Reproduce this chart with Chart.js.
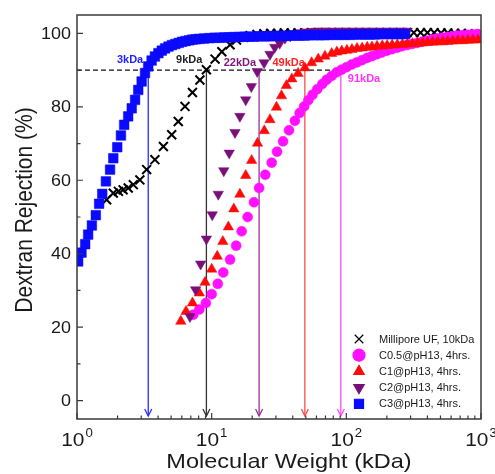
<!DOCTYPE html>
<html>
<head>
<meta charset="utf-8">
<script src="https://cdn.jsdelivr.net/npm/chart.js@4.4.1/dist/chart.umd.min.js"></script>
<style>
  html, body { margin: 0; padding: 0; background: #fff; }
  canvas { display: block; }
</style>
</head>
<body>
<canvas id="chart" width="495" height="474"></canvas>
<script>
/* dextran rejection vs molecular weight, log x axis */

// Millipore UF, 10kDa
const ufMw = [1.66, 1.86, 2.03, 2.2, 2.4, 2.62, 2.93, 3.29, 3.79, 4.38, 5.05, 5.65, 6.34, 7.2, 8.18, 9.14, 10.6, 11.9, 13.7, 15.3,
  17.2, 19.3, 21.7, 24.4, 27.4, 30.8, 34.6, 38.9, 43.7, 49, 55, 62, 70, 78, 88, 99, 111, 125, 140, 157, 177, 199, 223,
  251, 282, 317, 356, 400, 449, 505, 567, 637, 716, 804, 903];
const ufRej = [54.7, 56.5, 57.0, 57.4, 57.9, 58.8, 60.1, 62.9, 65.6, 69.2, 72.4, 76.0, 80.1, 83.9, 87.3, 90.1, 93.0, 95.0, 96.9, 98.2,
  98.9, 99.4, 99.7, 99.9, 100.0, 100.0, 100.1, 100.1, 100.1, 100.1, 100.2, 100.2, 100.2, 100.2, 100.2, 100.2, 100.2, 100.2, 100.2, 100.2, 100.2, 100.2, 100.2,
  100.2, 100.2, 100.2, 100.2, 100.2, 100.2, 100.1, 100.1, 100.0, 100.0, 99.9, 99.8];

// C0.5@pH13, 4hrs.
const c05Mw = [7.3, 8.1, 9.06, 10.0, 11.1, 12.2, 13.7, 15.2, 16.7, 18.5, 20.6, 22.5, 25.0, 27.9, 30.6, 33.9,
  37.5, 41.5, 45, 48.6, 52.2, 56.1, 60.8, 66.3, 71.5, 77.8, 84.8, 92.1, 100.5, 109.6, 119.6, 130.5, 142.3, 155, 169, 184,
  200, 218, 238, 259, 282, 308, 335, 365, 398, 434, 473, 515, 561, 612, 667, 727, 792, 863, 941];
const c05Rej = [23.4, 24.8, 26.6, 29.0, 31.8, 34.9, 38.4, 42.2, 46.1, 50.0, 54.0, 57.9, 61.5, 64.8, 67.8, 70.6,
  73.6, 76.2, 78.3, 80.1, 81.8, 83.3, 84.8, 86.2, 87.4, 88.4, 89.4, 90.1, 90.8, 91.5, 92.1, 92.7, 93.3, 93.8, 94.3, 94.8,
  95.3, 95.7, 96.1, 96.5, 96.8, 97.1, 97.4, 97.7, 98.0, 98.3, 98.6, 98.8, 99.0, 99.2, 99.4, 99.5, 99.6, 99.7, 99.8];

// C1@pH13, 4hrs.
const c1Mw = [5.9, 6.45, 7.2, 8.1, 8.93, 10.0, 11.0, 12.1, 13.3, 14.6, 16.2, 17.9, 19.8, 21.9, 24.6, 27.1, 30.3, 33.0,
  35.9, 39.4, 43.8, 49.2, 55.2, 61.9, 69.4, 77.8, 85, 92.5, 101, 110, 120, 131, 143, 155, 169, 185, 201, 219, 239, 261, 284,
  310, 338, 368, 401, 437, 477, 520, 566, 617, 673, 733, 799, 871, 950];
const c1Rej = [21.6, 24.3, 26.6, 29.3, 32.2, 35.8, 39.3, 43.3, 47.3, 52.2, 56.2, 61.3, 65.4, 70.1, 73.5, 76.5, 79.9, 83.0,
  85.8, 87.6, 89.1, 90.6, 92.0, 93.0, 93.8, 94.5, 94.9, 95.2, 95.4, 95.6, 95.9, 96.0, 96.2, 96.3, 96.5, 96.6, 96.7, 96.8, 96.9, 97.0, 97.1,
  97.2, 97.3, 97.4, 97.5, 97.6, 97.7, 97.7, 97.8, 97.9, 98.0, 98.0, 98.1, 98.2, 98.2];

// C2@pH13, 4hrs.
const c2Mw = [6.9, 7.6, 8.28, 9.14, 10.1, 11.2, 12.3, 13.5, 14.9, 16.2, 17.9, 19.7, 21.8, 24.5, 27.1, 29.4, 32, 35,
  38.3, 42, 46, 50, 55, 60, 66, 72, 79, 87, 95, 104, 114, 125, 137, 150, 164, 180, 197, 216, 236, 259, 283];
const c2Rej = [22.9, 30.2, 37.2, 44.0, 50.6, 56.2, 62.6, 67.4, 73.0, 77.4, 81.9, 85.5, 89.6, 92.0, 94.3, 96.2, 97.3, 98.7,
  99.3, 99.8, 100.2, 100.4, 100.5, 100.6, 100.6, 100.6, 100.6, 100.6, 100.6, 100.6, 100.6, 100.6, 100.6, 100.6, 100.6, 100.6,
  100.6, 100.6, 100.6, 100.6, 100.6];

// C3@pH13, 4hrs.
const c3Mw = [1.02, 1.08, 1.15, 1.21, 1.29, 1.38, 1.46, 1.54, 1.64, 1.76, 1.86, 1.99, 2.12, 2.24, 2.40, 2.55, 2.70, 2.85,
  3.02, 3.20, 3.38, 3.58, 3.79, 4.02, 4.26, 4.51, 4.78, 5.07, 5.37, 5.69, 6.03, 6.4, 6.8, 7.2, 7.6,
  8.1, 8.8, 9.6, 10.5, 11.4, 12.4, 13.5, 14.7, 16.0, 17.5, 19.0, 20.7, 22.6, 24.6, 26.8, 29.2, 31.8, 34.7, 37.8, 41.2,
  44.9, 49, 53, 58, 63, 69, 75, 82, 89, 97, 106, 115, 126, 137, 149, 163, 177, 193, 211, 230, 250, 273];
const c3Rej = [37.9, 40.3, 42.6, 45.2, 47.7, 50.5, 53.6, 56.3, 59.7, 62.9, 66.0, 69.0, 72.2, 75.1, 77.4, 79.6, 81.9, 84.6,
  86.9, 89.2, 91.0, 92.6, 93.7, 94.6, 95.3, 95.9, 96.4, 96.8, 97.1, 97.4, 97.7, 97.9, 98.1, 98.3, 98.4,
  98.5, 98.6, 98.7, 98.8, 98.8, 98.9, 98.9, 99.0, 99.0, 99.1, 99.1, 99.1, 99.2, 99.2, 99.2, 99.3, 99.3, 99.3, 99.4, 99.4,
  99.4, 99.4, 99.5, 99.5, 99.5, 99.5, 99.6, 99.6, 99.6, 99.6, 99.6, 99.7, 99.7, 99.7, 99.7, 99.7, 99.8, 99.8, 99.8, 99.8, 99.8, 99.8];

// 90% cut-off markers
const cutoffLevel = 90;
const cutoffMw = [3.38, 9.14, 22.5, 49.2, 91];
const cutoffLabels = ['3kDa', '9kDa', '22kDa', '49kDa', '91kDa'];

// axis ticks
const yTicks = [0, 20, 40, 60, 80, 100];
const yMinorTicks = [10, 30, 50, 70, 90];
const xDecades = [1, 10, 100, 1000];
const xExponents = ['0', '1', '2', '3'];

const FONT = '"Liberation Sans", Arial, Helvetica, sans-serif';
const STRETCH = 1.12;

const cutoffLineColors = ['#2a2aff', '#333333', '#992f99', '#ff4a4a', '#ff48ff'];
const cutoffTextColors = ['#1f1fff', '#222222', '#7a187a', '#ff2222', '#ff33ff'];
const cutoffTextDx = [-5, -4, -3, 0, 7];
const cutoffTextDy = [-7, -7, -4, -4, 12];

function toPoints(xs, ys) {
  return xs.map((v, i) => ({ x: v, y: ys[i] }));
}

const datasets = [
  { label: 'Millipore UF, 10kDa', data: toPoints(ufMw, ufRej), pointStyle: 'crossRot', pointRadius: 6.3,
    borderColor: '#000000', backgroundColor: '#000000', pointBorderWidth: 2, order: 5 },
  { label: 'C0.5@pH13, 4hrs.', data: toPoints(c05Mw, c05Rej), pointStyle: 'circle', pointRadius: 5,
    borderColor: '#ff10ff', backgroundColor: '#ff10ff', pointBorderWidth: 0.5, order: 4 },
  { label: 'C1@pH13, 4hrs.', data: toPoints(c1Mw, c1Rej), pointStyle: 'triangle', pointRadius: 6,
    borderColor: '#ff0a0a', backgroundColor: '#ff0a0a', pointBorderWidth: 0.5, order: 3 },
  { label: 'C2@pH13, 4hrs.', data: toPoints(c2Mw, c2Rej), pointStyle: 'triangle', pointRotation: 180, pointRadius: 6,
    borderColor: '#7a0f7a', backgroundColor: '#7a0f7a', pointBorderWidth: 0.5, order: 2 },
  { label: 'C3@pH13, 4hrs.', data: toPoints(c3Mw, c3Rej), pointStyle: 'rect', pointRadius: 6.8,
    borderColor: '#0a0aff', backgroundColor: '#0a0aff', pointBorderWidth: 0.5, order: 1 },
];
datasets.forEach(d => { d.showLine = false; d.clip = 0; });

function stretchedText(ctx, text, x, y, align, baseline) {
  ctx.save();
  ctx.translate(x, y);
  ctx.scale(STRETCH, 1);
  ctx.textAlign = align;
  ctx.textBaseline = baseline;
  ctx.fillText(text, 0, 0);
  ctx.restore();
}

const decor = {
  id: 'decor',
  beforeDatasetsDraw(chart) {
    const { ctx, chartArea: a } = chart;
    const x = chart.scales.x, y = chart.scales.y;
    const y90 = y.getPixelForValue(cutoffLevel);
    ctx.save();
    // dashed 90% line
    ctx.strokeStyle = '#111';
    ctx.lineWidth = 1.3;
    ctx.setLineDash([5, 3]);
    ctx.beginPath();
    ctx.moveTo(a.left, y90);
    ctx.lineTo(x.getPixelForValue(cutoffMw[cutoffMw.length - 1]), y90);
    ctx.stroke();
    ctx.setLineDash([]);
    // arrows down to the axis
    cutoffMw.forEach((mw, i) => {
      const px = x.getPixelForValue(mw);
      ctx.strokeStyle = cutoffLineColors[i];
      ctx.lineWidth = 1.3;
      ctx.beginPath();
      ctx.moveTo(px, y90);
      ctx.lineTo(px, a.bottom - 3);
      ctx.stroke();
      ctx.beginPath();
      ctx.moveTo(px - 3.5, a.bottom - 10);
      ctx.lineTo(px, a.bottom - 3);
      ctx.lineTo(px + 3.5, a.bottom - 10);
      ctx.stroke();
      ctx.fillStyle = cutoffTextColors[i];
      ctx.font = 'bold 11px ' + FONT;
      ctx.textAlign = i === cutoffMw.length - 1 ? 'left' : 'right';
      ctx.textBaseline = 'alphabetic';
      ctx.fillText(cutoffLabels[i], px + cutoffTextDx[i], y90 + cutoffTextDy[i]);
    });
    ctx.restore();
  },
  afterDatasetsDraw(chart) {
    const { ctx, chartArea: a } = chart;
    const x = chart.scales.x, y = chart.scales.y;
    ctx.save();
    // frame
    ctx.strokeStyle = '#3a3a3a';
    ctx.lineWidth = 1.5;
    ctx.strokeRect(a.left, a.top, a.right - a.left, a.bottom - a.top);
    // inward ticks
    ctx.lineWidth = 1.2;
    ctx.beginPath();
    yTicks.forEach(v => { const p = y.getPixelForValue(v); ctx.moveTo(a.left, p); ctx.lineTo(a.left + 6, p); });
    yMinorTicks.forEach(v => { const p = y.getPixelForValue(v); ctx.moveTo(a.left, p); ctx.lineTo(a.left + 3.5, p); });
    xDecades.forEach((d, i) => {
      const p = x.getPixelForValue(d);
      ctx.moveTo(p, a.bottom); ctx.lineTo(p, a.bottom - 6);
      if (i < xDecades.length - 1) {
        for (let k = 2; k <= 9; k++) {
          const q = x.getPixelForValue(d * k);
          ctx.moveTo(q, a.bottom); ctx.lineTo(q, a.bottom - 3.5);
        }
      }
    });
    ctx.stroke();
    // y tick labels
    ctx.fillStyle = '#1a1a1a';
    ctx.font = '16px ' + FONT;
    yTicks.forEach(v => stretchedText(ctx, String(v), a.left - 6, y.getPixelForValue(v) + 1, 'right', 'middle'));
    // x tick labels with superscript exponent
    xDecades.forEach((d, i) => {
      const p = x.getPixelForValue(d);
      ctx.font = '19px ' + FONT;
      const wb = ctx.measureText('10').width * 1.1;
      ctx.font = '12px ' + FONT;
      const ws = ctx.measureText(xExponents[i]).width * 1.1;
      const start = p - (wb + ws + 1) / 2;
      ctx.save(); ctx.translate(start, 446); ctx.scale(1.1, 1);
      ctx.font = '19px ' + FONT; ctx.textAlign = 'left'; ctx.textBaseline = 'alphabetic';
      ctx.fillText('10', 0, 0);
      ctx.restore();
      ctx.save(); ctx.translate(start + wb + 1, 437); ctx.scale(1.1, 1);
      ctx.font = '12px ' + FONT; ctx.textAlign = 'left'; ctx.textBaseline = 'alphabetic';
      ctx.fillText(xExponents[i], 0, 0);
      ctx.restore();
    });
    // axis titles
    ctx.font = '21px ' + FONT;
    stretchedText(ctx, 'Molecular Weight (kDa)', 289, 468, 'center', 'alphabetic');
    ctx.save();
    ctx.translate(31.5, 210);
    ctx.scale(STRETCH, 1);
    ctx.rotate(-Math.PI / 2);
    ctx.textAlign = 'center';
    ctx.textBaseline = 'alphabetic';
    ctx.fillText('Dextran Rejection (%)', 0, 0);
    ctx.restore();
    // legend, bottom right inside the frame
    const drawPoint = Chart.helpers && Chart.helpers.drawPoint;
    chart.data.datasets.forEach((ds, i) => {
      const ly = 339 + i * 16.2;
      ctx.fillStyle = ds.backgroundColor;
      ctx.strokeStyle = ds.borderColor;
      if (drawPoint) {
        drawPoint(ctx, {
          pointStyle: ds.pointStyle,
          rotation: ds.pointRotation || 0,
          radius: ds.pointStyle === 'rect' ? 6.4 : 6,
          borderWidth: ds.pointStyle === 'crossRot' ? 2.4 : 0.5
        }, 359, ly);
      }
      ctx.fillStyle = '#1a1a1a';
      ctx.font = '11px ' + FONT;
      ctx.textAlign = 'left';
      ctx.textBaseline = 'middle';
      ctx.fillText(ds.label, 379, ly + 0.5);
    });
    ctx.restore();
  }
};

new Chart(document.getElementById('chart'), {
  type: 'scatter',
  data: { datasets: datasets },
  options: {
    responsive: false,
    animation: false,
    layout: { padding: { left: 77, top: 15, right: 14, bottom: 55 } },
    scales: {
      x: { type: 'logarithmic', min: 1, max: 1000, display: false },
      y: { type: 'linear', min: -5, max: 105, display: false }
    },
    plugins: {
      legend: { display: false },
      tooltip: { enabled: false }
    }
  },
  plugins: [decor]
});
</script>
</body>
</html>
